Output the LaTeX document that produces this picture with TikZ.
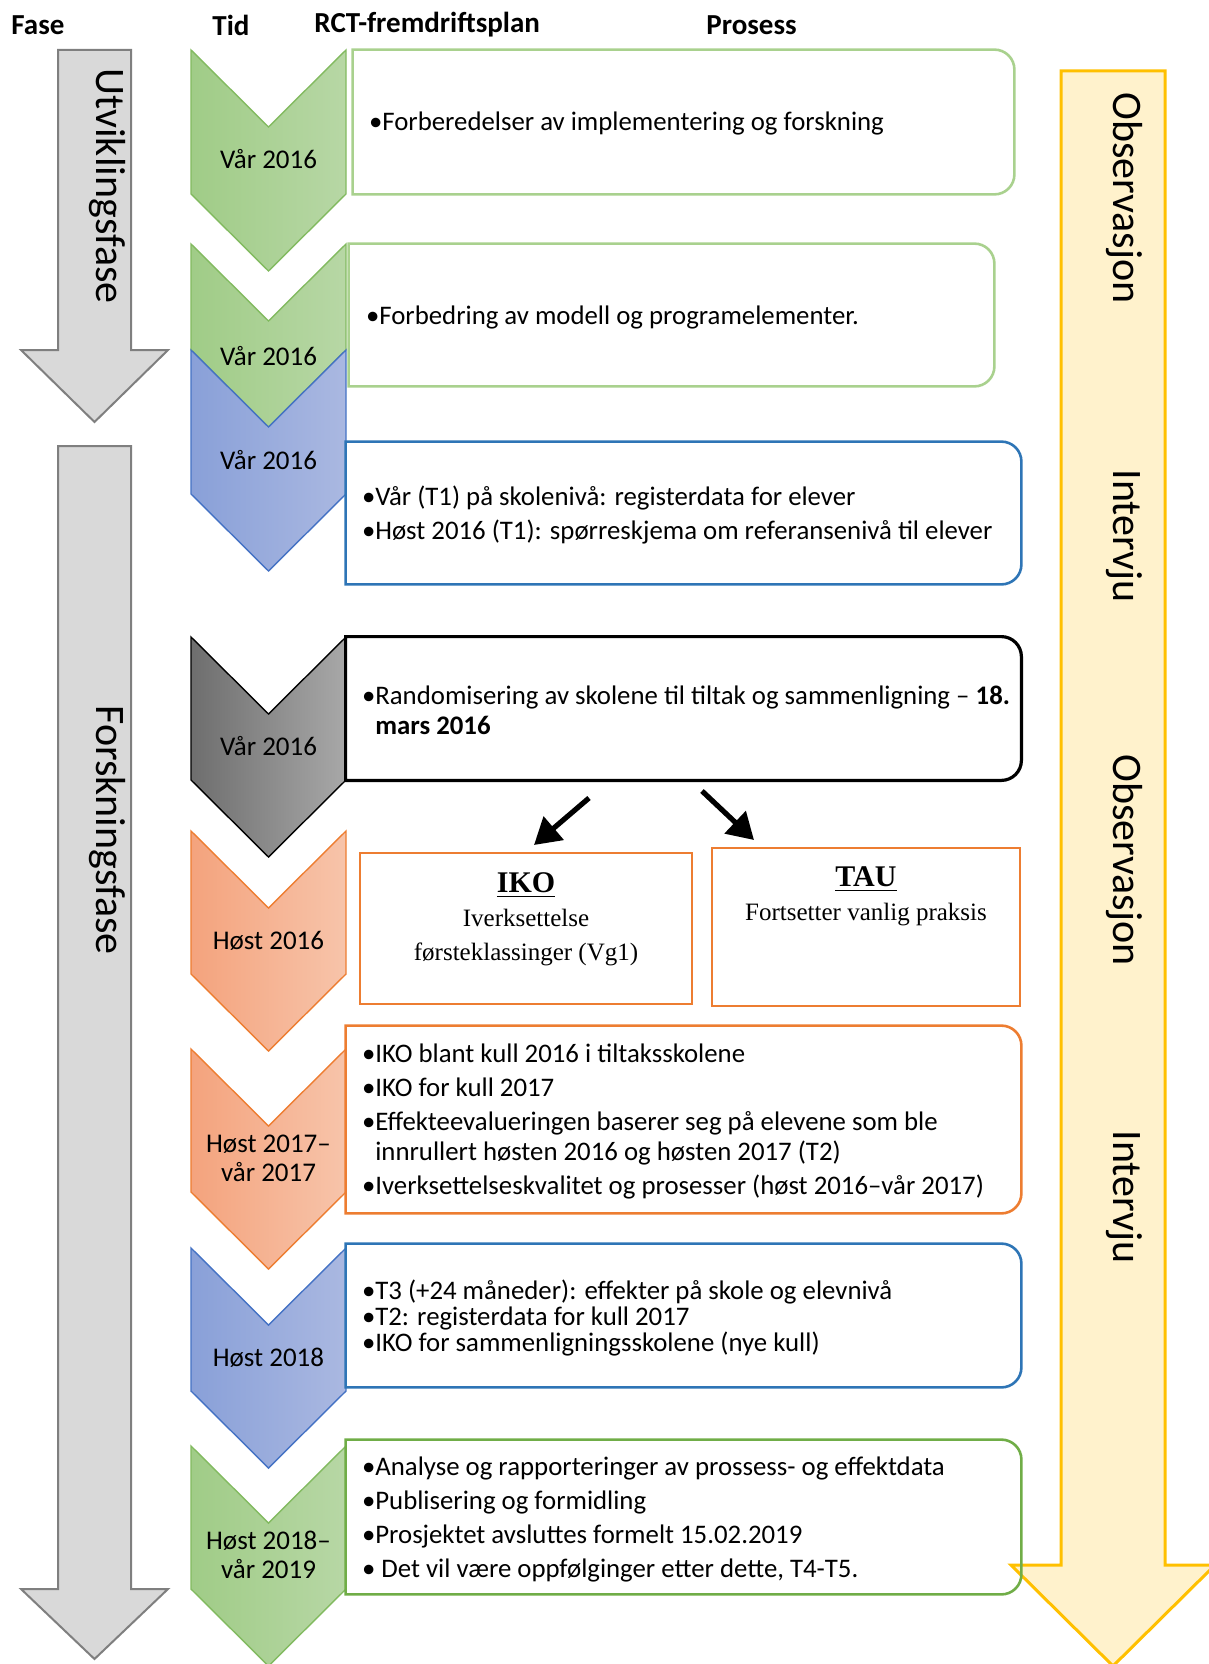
\documentclass[tikz,border=0pt]{standalone}
\usepackage{fontspec}
\setmainfont{Carlito}
\newfontfamily\camfont{Liberation Serif}
\usetikzlibrary{arrows.meta,positioning}
\definecolor{grnL}{RGB}{160,204,135}
\definecolor{grnR}{RGB}{183,215,165}
\definecolor{grnB}{RGB}{130,186,96}
\definecolor{grnBox}{RGB}{169,209,142}
\definecolor{grnDk}{RGB}{112,173,71}
\definecolor{bluL}{RGB}{137,160,216}
\definecolor{bluR}{RGB}{170,184,225}
\definecolor{bluB}{RGB}{68,114,196}
\definecolor{bluBox}{RGB}{46,117,182}
\definecolor{orgL}{RGB}{244,163,125}
\definecolor{orgR}{RGB}{247,196,170}
\definecolor{orgB}{RGB}{237,125,49}
\definecolor{gryL}{RGB}{110,110,110}
\definecolor{gryR}{RGB}{168,168,168}
\definecolor{phase}{RGB}{217,217,217}
\definecolor{phaseB}{RGB}{127,127,127}
\definecolor{obsF}{RGB}{255,242,204}
\definecolor{obsB}{RGB}{255,192,0}
\tikzstyle{head}=[font=\bfseries\fontsize{14.5}{17}\selectfont,anchor=west,inner sep=0pt]
\tikzstyle{vlabel}=[rotate=-90,font=\fontsize{21}{24}\selectfont,inner sep=0pt]
\tikzstyle{chevlabel}=[font=\fontsize{13.5}{14.5}\selectfont,align=center,inner sep=0pt]
\tikzstyle{pbox}=[inner sep=0pt]
\tikzstyle{proc}=[font=\fontsize{13.4}{17}\selectfont,align=left,inner sep=0pt,yshift=-1pt]
\tikzstyle{grp}=[draw=orgB,line width=1.3pt,inner sep=0pt]
\tikzstyle{grptext}=[font=\camfont\fontsize{12.5}{17}\selectfont,align=center,inner sep=0pt]
\tikzstyle{split}=[line width=2.6pt,-{Triangle[length=13pt,width=15pt]}]
\tikzstyle{cgreen}=[left color=grnL,right color=grnR,draw=grnB]
\tikzstyle{cblue}=[left color=bluL,right color=bluR,draw=bluB]
\tikzstyle{corange}=[left color=orgL,right color=orgR,draw=orgB]
\tikzstyle{cgrey}=[left color=gryL,right color=gryR,draw=black]
\newcommand{\chev}[3]{%
  \shade[#1,line width=0.7pt] (191,#2) -- (268.5,#2+77) -- (346,#2)
    -- (346,#3) -- (268.5,#3+77) -- (191,#3) -- cycle;}
\newcommand{\rframe}[2]{%
  \draw[#2] (#1.north west) -- ([xshift=-10pt]#1.north east)
    arc[start angle=90,end angle=0,radius=10pt] -- ([yshift=10pt]#1.south east)
    arc[start angle=0,end angle=-90,radius=10pt] -- (#1.south west) -- cycle;}

\begin{document}
\begin{tikzpicture}[x=0.5pt,y=-0.5pt]
  \useasboundingbox (0,0) rectangle (1209,1664);

  \node[head] (fase) at (11,25) {Fase};
  \node[head] (tid) at (212,25) {Tid};
  \node[head] (rct) at (314,25) {RCT-fremdriftsplan};
  \node[head] (prosess) at (706,25) {Prosess};

  \draw[fill=phase,draw=phaseB,line width=1pt] (58,50) -- (131,50) -- (131,350)
    -- (168,350) -- (94.5,422) -- (21,350) -- (58,350) -- cycle;
  \draw[fill=phase,draw=phaseB,line width=1pt] (58,446) -- (131,446) -- (131,1589)
    -- (168,1589) -- (94.5,1659) -- (21,1589) -- (58,1589) -- cycle;
  \node[vlabel] (utv) at (107,186) {Utviklingsfase};
  \node[vlabel] (forsk) at (107,830) {Forskningsfase};

  \draw[fill=obsF,draw=obsB,line width=1.5pt] (1061,71) -- (1165,71) -- (1165,1565)
    -- (1215,1565) -- (1113,1666) -- (1011,1565) -- (1061,1565) -- cycle;
  \node[vlabel] (obs1) at (1124,198) {Observasjon};
  \node[vlabel] (int1) at (1124,536) {Intervju};
  \node[vlabel] (obs2) at (1124,860) {Observasjon};
  \node[vlabel] (int2) at (1124,1197) {Intervju};

  \chev{cgreen}{50}{194}
  \chev{cgreen}{244}{350}
  \chev{cblue}{350}{494}
  \chev{cgrey}{637}{780}
  \chev{corange}{831}{974}
  \chev{corange}{1049}{1192}
  \chev{cblue}{1248}{1391}
  \chev{cgreen}{1446}{1589}

  \node[chevlabel] (c1) at (268.5,159) {Vår 2016};
  \node[chevlabel] (c2) at (268.5,356) {Vår 2016};
  \node[chevlabel] (c3) at (268.5,460) {Vår 2016};
  \node[chevlabel] (c4) at (268.5,746) {Vår 2016};
  \node[chevlabel] (c5) at (268.5,941) {Høst 2016};
  \node[chevlabel] (c6) at (268.5,1158) {Høst 2017–\\vår 2017};
  \node[chevlabel] (c7) at (268.5,1358) {Høst 2018};
  \node[chevlabel] (c8) at (268.5,1555) {Høst 2018–\\vår 2019};

  \node[pbox,minimum width=330.5pt,minimum height=72pt] (p1) at (683.5,122) {};
  \node[pbox,minimum width=322.5pt,minimum height=71pt] (p2) at (671.5,315) {};
  \node[pbox,minimum width=337.5pt,minimum height=71pt] (p3) at (683.5,513) {};
  \node[pbox,minimum width=337.5pt,minimum height=71.5pt] (p4) at (683.5,708.5) {};
  \node[pbox,minimum width=337.5pt,minimum height=93.5pt] (p5) at (683.5,1119.5) {};
  \node[pbox,minimum width=337.5pt,minimum height=71.5pt] (p6) at (683.5,1315.5) {};
  \node[pbox,minimum width=337.5pt,minimum height=77pt] (p7) at (683.5,1517) {};
  \rframe{p1}{grnBox,line width=1.3pt}
  \rframe{p2}{grnBox,line width=1.3pt}
  \rframe{p3}{bluBox,line width=1.3pt}
  \rframe{p4}{black,line width=1.6pt}
  \rframe{p5}{orgB,line width=1.3pt}
  \rframe{p6}{bluBox,line width=1.3pt}
  \rframe{p7}{grnDk,line width=1.3pt}

  \node[proc,right=8pt of p1.west] (t1) {•Forberedelser av implementering og forskning};
  \node[proc,right=8.5pt of p2.west] (t2) {•Forbedring av modell og programelementer.};
  \node[proc,right=8pt of p3.west] (t3) {•Vår (T1) på skolenivå: registerdata for elever\\
    •Høst 2016 (T1): spørreskjema om referansenivå til elever};
  \node[proc,right=8pt of p4.west] (t4) {•Randomisering av skolene til tiltak og sammenligning – \textbf{18.}\\[-2pt]
    \phantom{•}\textbf{mars 2016}};
  \node[proc,right=8pt of p5.west] (t5) {•IKO blant kull 2016 i tiltaksskolene\\
    •IKO for kull 2017\\
    •Effekteevalueringen baserer seg på elevene som ble\\[-2pt]
    \phantom{•}innrullert høsten 2016 og høsten 2017 (T2)\\
    •Iverksettelseskvalitet og prosesser (høst 2016–vår 2017)};
  \node[proc,right=8pt of p6.west] (t6) {•T3 (+24 måneder): effekter på skole og elevnivå\\[-4pt]
    •T2: registerdata for kull 2017\\[-4pt]
    •IKO for sammenligningsskolene (nye kull)};
  \node[proc,right=8pt of p7.west] (t7) {•Analyse og rapporteringer av prossess- og effektdata\\
    •Publisering og formidling\\
    •Prosjektet avsluttes formelt 15.02.2019\\
    • Det vil være oppfølginger etter dette, T4-T5.};

  \node[grp,minimum width=166pt,minimum height=75.5pt] (iko) at (526,928.5) {};
  \node[grptext,below=10.5pt of iko.north] (ikot)
    {{\fontsize{15}{17}\selectfont\underline{\textbf{IKO}}}\\Iverksettelse\\førsteklassinger (Vg1)};
  \node[grp,minimum width=154pt,minimum height=79pt] (tau) at (866,927) {};
  \node[grptext,below=10pt of tau.north] (taut)
    {{\fontsize{15}{17}\selectfont\underline{\textbf{TAU}}}\\Fortsetter vanlig praksis};

  \coordinate (s1) at (589,798);
  \coordinate (e1) at (534,845);
  \coordinate (s2) at (702,791);
  \coordinate (e2) at (754,840);
  \draw[split] (s1) -- (e1);
  \draw[split] (s2) -- (e2);
\end{tikzpicture}
\end{document}
